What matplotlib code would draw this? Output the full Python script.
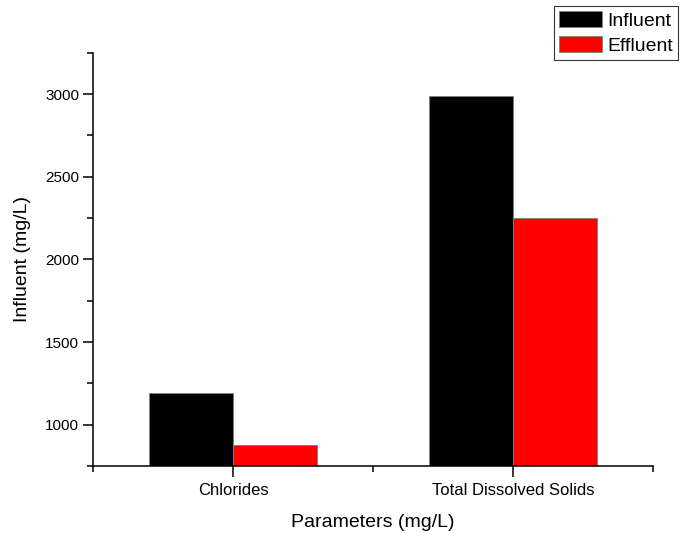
import matplotlib
matplotlib.use("Agg")
import matplotlib.pyplot as plt
import numpy as np
from matplotlib.ticker import MultipleLocator, FixedLocator

plt.rcParams["font.family"] = ["Liberation Sans", "DejaVu Sans"]

# 数据
categories = ["Chlorides", "Total Dissolved Solids"]
influent = [1190, 2990]
effluent = [877, 2250]

fig = plt.figure(figsize=(6.8, 5.33), dpi=100)
ax = fig.add_axes([93 / 680, 1 - 466 / 533, (653 - 93) / 680, (466 - 52.75) / 533])

x = np.arange(1, len(categories) + 1)
w = 0.3
ax.bar(x - w / 2, influent, w, color="black", edgecolor="#808080", lw=0.6, label="Influent", zorder=1)
ax.bar(x + w / 2, effluent, w, color="#ff0000", edgecolor="#808080", lw=0.6, label="Effluent", zorder=1)

ax.set_xlim(0.5, 2.5)
ax.set_ylim(750, 3250)
ax.set_xticks(x)
ax.set_xticklabels(categories, fontsize=12)
ax.xaxis.set_minor_locator(FixedLocator([0.5, 1.5, 2.5]))
ax.yaxis.set_major_locator(MultipleLocator(500))
ax.yaxis.set_minor_locator(MultipleLocator(250))
ax.tick_params(axis="y", which="major", length=7, width=1.1, labelsize=11, pad=3)
ax.tick_params(axis="y", which="minor", length=4, width=1.1)
ax.tick_params(axis="x", which="major", length=8, width=1.1, pad=4)
ax.tick_params(axis="x", which="minor", length=4.5, width=1.1)

for s in ("top", "right"):
    ax.spines[s].set_visible(False)
for s in ("left", "bottom"):
    ax.spines[s].set_linewidth(1.1)
    ax.spines[s].set_zorder(3)

ax.set_ylabel("Influent (mg/L)", fontsize=14, labelpad=10)
ax.set_xlabel("Parameters (mg/L)", fontsize=14, labelpad=12)

leg = fig.legend(loc="upper right", bbox_to_anchor=(0.997, 0.988), fontsize=14,
                 frameon=True, fancybox=False, edgecolor="black", borderpad=0.25,
                 handlelength=2.2, handleheight=0.9, handletextpad=0.3,
                 labelspacing=0.3, borderaxespad=0)
leg.get_frame().set_linewidth(0.8)

fig.savefig("out.png", dpi=100)
